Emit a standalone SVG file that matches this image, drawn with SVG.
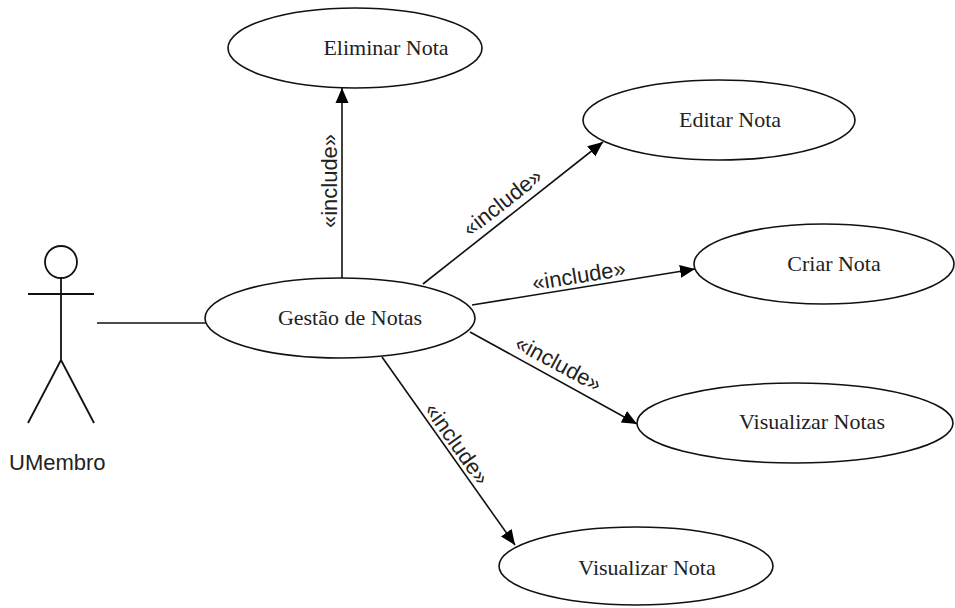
<svg xmlns="http://www.w3.org/2000/svg" width="955" height="608" viewBox="0 0 955 608">
<style>
.uc{fill:#fff;stroke:#111;stroke-width:1.6}
.uct{font-family:"Liberation Serif","Times New Roman",serif;font-size:22px;fill:#222;text-anchor:middle}
.lbl{font-family:"Liberation Sans",Arial,sans-serif;font-size:22px;fill:#222;text-anchor:middle}
.ln{stroke:#111;stroke-width:1.6;fill:none}
.act{stroke:#111;stroke-width:1.8;fill:none}
</style>
<defs>
<marker id="arr" markerUnits="userSpaceOnUse" markerWidth="16" markerHeight="14" refX="15" refY="7" orient="auto">
<path d="M0,0.5 L15,7 L0,13.5 z" fill="#000"/>
</marker>
</defs>
<rect width="955" height="608" fill="#fff"/>
<g id="connectors">
<line class="ln" x1="97" y1="323" x2="206" y2="323"/>
<line class="ln" x1="342" y1="278" x2="342" y2="88" marker-end="url(#arr)"/>
<line class="ln" x1="423" y1="284" x2="603" y2="142" marker-end="url(#arr)"/>
<line class="ln" x1="472" y1="305" x2="695" y2="269" marker-end="url(#arr)"/>
<line class="ln" x1="470" y1="332" x2="637" y2="424" marker-end="url(#arr)"/>
<line class="ln" x1="382" y1="357" x2="515" y2="545" marker-end="url(#arr)"/>
<text class="lbl" transform="translate(337,181) rotate(-90)">«include»</text>
<text class="lbl" transform="translate(507,208) rotate(-38.3)">«include»</text>
<text class="lbl" transform="translate(580,283) rotate(-9.2)">«include»</text>
<text class="lbl" transform="translate(555,370) rotate(28.3)">«include»</text>
<text class="lbl" transform="translate(451,448) rotate(54.7)">«include»</text>
</g>
<g id="actor">
<circle class="act" cx="61" cy="262" r="16"/>
<line class="act" x1="61" y1="278" x2="61" y2="360"/>
<line class="act" x1="28" y1="294" x2="94" y2="294"/>
<line class="act" x1="61" y1="360" x2="28" y2="423"/>
<line class="act" x1="61" y1="360" x2="94" y2="423"/>
<text x="9" y="470" font-family="Liberation Sans,Arial,sans-serif" font-size="22" fill="#222">UMembro</text>
</g>
<g id="eliminar">
<ellipse class="uc" cx="355" cy="48" rx="127" ry="40"/>
<text class="uct" x="386" y="55">Eliminar Nota</text>
</g>
<g id="editar">
<ellipse class="uc" cx="719" cy="120" rx="136" ry="40"/>
<text class="uct" x="730" y="127">Editar Nota</text>
</g>
<g id="criar">
<ellipse class="uc" cx="824" cy="264" rx="130" ry="40"/>
<text class="uct" x="834" y="271">Criar Nota</text>
</g>
<g id="gestao">
<ellipse class="uc" cx="340" cy="318" rx="135" ry="40"/>
<text class="uct" x="350" y="325">Gestão de Notas</text>
</g>
<g id="visualizarNotas">
<ellipse class="uc" cx="795" cy="423" rx="158" ry="40"/>
<text class="uct" x="812" y="429">Visualizar Notas</text>
</g>
<g id="visualizarNota">
<ellipse class="uc" cx="636" cy="566" rx="137" ry="39"/>
<text class="uct" x="647" y="575">Visualizar Nota</text>
</g>
</svg>
